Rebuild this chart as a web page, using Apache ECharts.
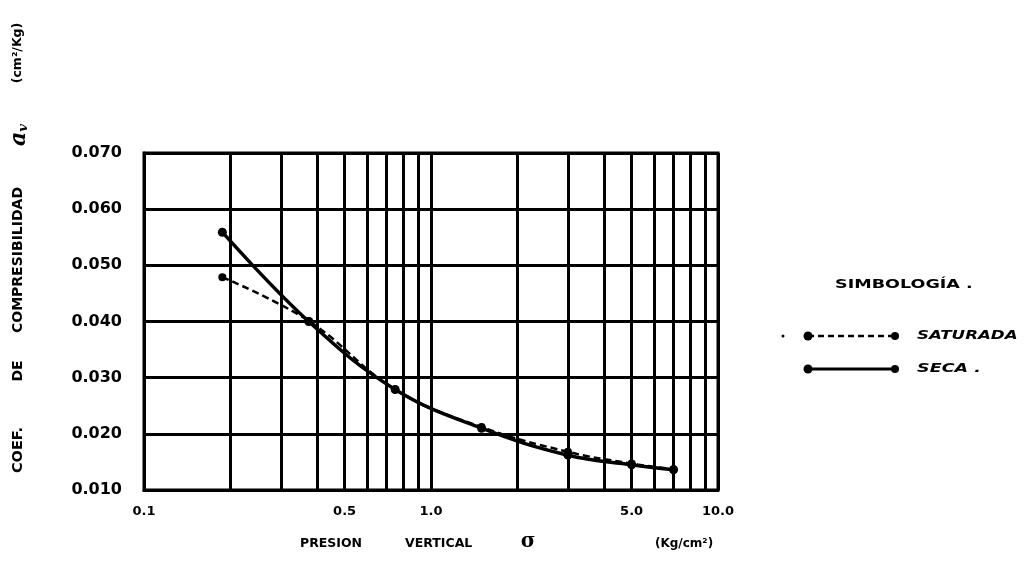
<!DOCTYPE html>
<html><head><meta charset="utf-8">
<script src="https://cdn.jsdelivr.net/npm/echarts@6/dist/echarts.min.js"></script>
<style>html,body{margin:0;padding:0;background:#fff}#c{width:1029px;height:571px}</style>
</head><body><div id="c"></div>
<script>
// ---- data ----
const xTickValues = [0.1, 0.5, 1, 5, 10];
const xTickLabels = ['0.1', '0.5', '1.0', '5.0', '10.0'];
const xGridValues = [0.2, 0.3, 0.4, 0.5, 0.6, 0.7, 0.8, 0.9, 2, 3, 4, 5, 6, 7, 8, 9];
const yMin = 0.010, yMax = 0.070, yStep = 0.010;
const presion = [0.1875, 0.375, 0.75, 1.5, 3.0, 5.0, 7.0];
const seca = [0.0559, 0.0400, 0.0279, 0.0210, 0.0162, 0.0145, 0.0136];
const saturada = [0.0479, 0.0401, 0.0279, 0.0212, 0.0168, 0.0147, 0.0137];
const legendTitle = 'SIMBOLOGÍA .';
const seriesNames = ['SATURADA', 'SECA .'];

const BOLD = 'bold';
const FF = '"DejaVu Sans", sans-serif';
const chart = echarts.init(document.getElementById('c'));

function labelFor(v) {
  const i = xTickValues.findIndex(t => Math.abs(t - v) < 1e-6 * Math.max(1, t));
  return i >= 0 ? xTickLabels[i] : '';
}

const rotText = (txt, x, y, size, extra) => ({
  type: 'text', x: x, y: y, rotation: Math.PI / 2,
  style: Object.assign({ text: txt, fill: '#000', font: BOLD + ' ' + size + 'px ' + FF, align: 'center', verticalAlign: 'middle' }, extra || {})
});
const plainText = (txt, x, y, size, extra, sx) => ({
  type: 'text', x: x, y: y, scaleX: sx || 1,
  style: Object.assign({ text: txt, fill: '#000', font: BOLD + ' ' + size + 'px ' + FF, align: 'left', verticalAlign: 'middle' }, extra || {})
});

chart.setOption({
  animation: false,
  backgroundColor: '#fff',
  grid: { left: 144, right: 311, top: 153, bottom: 81, show: true, borderColor: '#000', borderWidth: 3 },
  xAxis: {
    type: 'log', logBase: 10, min: 0.1, max: 10,
    axisLine: { show: true, lineStyle: { color: '#000', width: 3 } },
    axisTick: { show: false },
    splitLine: { show: true, lineStyle: { color: '#000', width: 3 } },
    axisLabel: {
      customValues: xTickValues,
      formatter: v => labelFor(v),
      color: '#000', fontFamily: FF, fontWeight: 'bold', fontSize: 13, margin: 15
    }
  },
  yAxis: {
    type: 'value', min: yMin, max: yMax, interval: yStep,
    axisLine: { show: true, lineStyle: { color: '#000', width: 3 } },
    axisTick: { show: false },
    splitLine: { show: true, lineStyle: { color: '#000', width: 3 } },
    axisLabel: { formatter: v => v.toFixed(3), color: '#000', fontFamily: FF, fontWeight: 'bold', fontSize: 16, margin: 22 }
  },
  series: [
    {
      name: seriesNames[0], type: 'line', smooth: 0.4, z: 5,
      data: presion.map((p, i) => [p, saturada[i]]),
      symbol: 'circle', symbolSize: 8,
      itemStyle: { color: '#000' },
      lineStyle: { color: '#000', width: 2.5, type: [7, 4] },
      markLine: {
        silent: true, symbol: 'none', z: 1,
        label: { show: false },
        lineStyle: { color: '#000', width: 3, type: 'solid' },
        data: xGridValues.map(v => ({ xAxis: v }))
      }
    },
    {
      name: seriesNames[1], type: 'line', smooth: 0.4, z: 6,
      data: presion.map((p, i) => [p, seca[i]]),
      symbol: 'circle', symbolSize: 9,
      itemStyle: { color: '#000' },
      lineStyle: { color: '#000', width: 3.5, type: 'solid' }
    }
  ],
  graphic: [
    // y axis title (vertical)
    rotText('COEF.', 18, 450, 14.5),
    rotText('DE', 18, 371, 14),
    rotText('COMPRESIBILIDAD', 18, 260, 14),
    { type: 'text', x: 19, y: 135, rotation: Math.PI / 2,
      style: { text: '{a|a}{v|v}', fill: '#000', align: 'center', verticalAlign: 'middle',
        rich: { a: { font: 'bold italic 22px "DejaVu Serif", serif', fill: '#000' }, v: { font: 'bold italic 13px "DejaVu Serif", serif', fill: '#000', verticalAlign: 'bottom' } } } },
    rotText('(cm²/Kg)', 18, 53, 12.5),
    // x axis title
    plainText('PRESION', 300, 544, 12.5),
    plainText('VERTICAL', 405, 544, 12.5),
    { type: 'text', x: 528, y: 542, style: { text: 'σ', fill: '#000', font: 'bold 20px "DejaVu Serif", serif', align: 'center', verticalAlign: 'middle' } },
    plainText('(Kg/cm²)', 655, 544, 12),
    // legend
    plainText(legendTitle, 835, 285, 13, null, 1.35),
    { type: 'circle', shape: { cx: 783, cy: 336, r: 1.5 }, style: { fill: '#000' } },
    { type: 'line', shape: { x1: 808, y1: 336, x2: 895, y2: 336 }, style: { stroke: '#000', lineWidth: 2.5, lineDash: [6, 4] } },
    { type: 'circle', shape: { cx: 808, cy: 336, r: 4.5 }, style: { fill: '#000' } },
    { type: 'circle', shape: { cx: 895, cy: 336, r: 4 }, style: { fill: '#000' } },
    plainText(seriesNames[0], 917, 336, 13, { font: 'bold italic 13px ' + FF }, 1.28),
    { type: 'line', shape: { x1: 808, y1: 369, x2: 895, y2: 369 }, style: { stroke: '#000', lineWidth: 3 } },
    { type: 'circle', shape: { cx: 808, cy: 369, r: 4.5 }, style: { fill: '#000' } },
    { type: 'circle', shape: { cx: 895, cy: 369, r: 4 }, style: { fill: '#000' } },
    plainText(seriesNames[1], 917, 369, 13, { font: 'bold italic 13px ' + FF }, 1.35)
  ]
});
</script>
</body></html>
